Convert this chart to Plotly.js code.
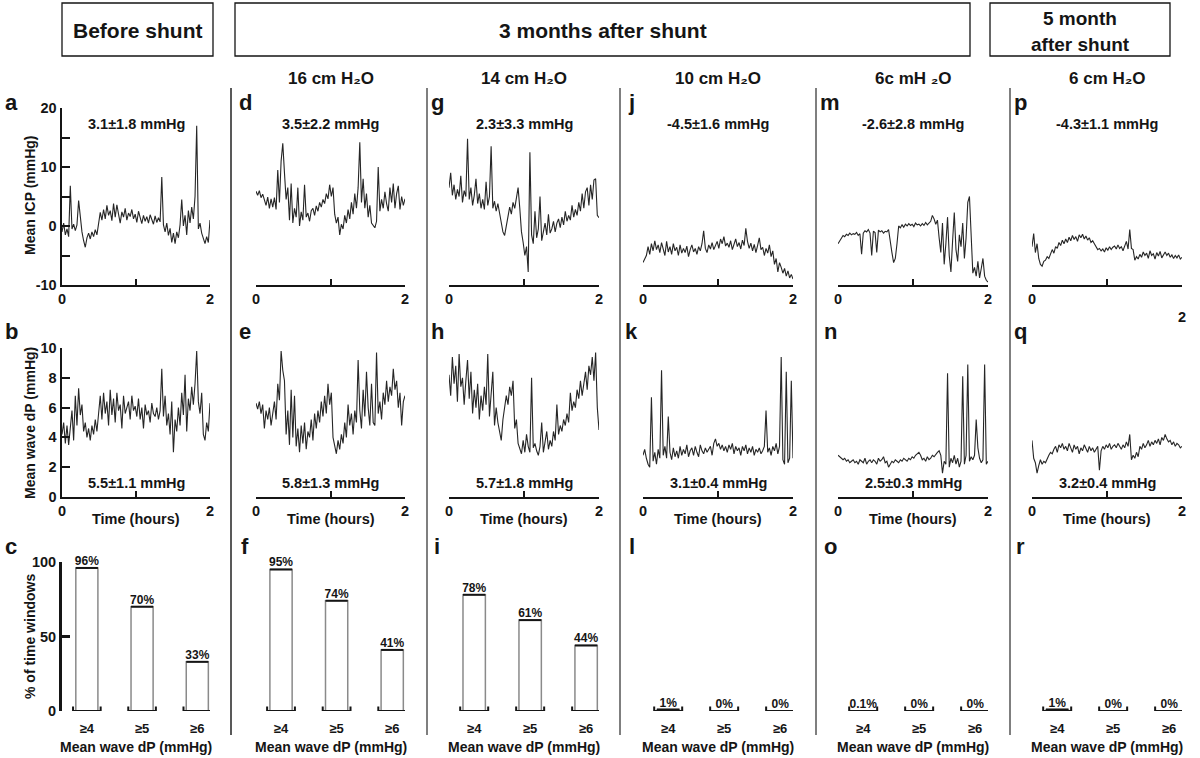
<!DOCTYPE html>
<html><head><meta charset="utf-8">
<script src="https://cdn.plot.ly/plotly-3.0.1.min.js"></script>
<style>html,body{margin:0;padding:0;background:#fff}#chart{width:1200px;height:758px}</style>
</head><body><div id="chart"></div>
<script>
// ---------- DATA ----------
// Mean ICP (mmHg), 2-hour recordings
const icpBefore = [-1.0,0.5,-1.5,-0.5,-1.8,6.8,-0.5,0.3,-0.8,0.2, 4.3,1.5,-1.0,-2.5,-3.6,-2.0,-1.2,-2.2,-1.0,-1.8, -0.6,-1.5,0.8,2.3,1.0,2.8,1.2,3.5,1.8,2.6, 0.9,3.8,1.5,3.6,2.0,0.5,2.4,1.5,3.0,1.0, 2.2,1.6,2.8,1.2,2.0,0.6,2.5,1.3,0.4,1.8, 0.8,1.6,0.5,1.9,1.0,0.3,1.7,0.6,1.4,0.7, 8.3,0.2,-1.0,0.5,-1.6,-0.4,-2.8,-1.2,-3.0,-1.0, -2.0,0.2,4.5,0.0,1.8,-1.5,2.6,0.5,3.2,1.2, 5.0,17.0,-0.5,0.5,-1.2,-2.0,-3.0,-1.8,-2.8,1.0];
const icp16cm = [5.9,5.2,6.0,4.8,5.4,4.2,3.5,4.9,3.0,4.6, 3.2,4.8,2.8,9.5,4.0,11.0,14.0,9.0,4.5,6.5, 1.0,7.2,0.5,3.0,1.5,6.5,0.0,2.4,1.0,7.0, 1.5,2.2,0.8,2.6,3.0,1.8,3.4,2.5,4.0,3.2, 4.5,3.8,5.5,4.6,7.0,5.0,6.5,2.0,0.5,1.5, -1.5,0.3,-0.5,1.8,0.5,2.8,1.2,4.0,2.0,5.5, 3.0,6.5,14.2,4.0,8.0,3.0,5.5,1.5,3.5,0.5, 0.0,-0.3,0.8,10.0,2.5,4.5,3.0,5.8,3.8,2.5, 6.5,4.0,7.2,3.0,5.5,6.8,2.8,5.0,3.5,4.6];
const icp14cm = [6.5,9.0,5.2,7.0,4.5,6.2,5.0,8.5,4.0,6.0, 5.0,14.8,4.5,6.5,3.5,5.2,8.0,3.8,5.5,3.0, 4.5,2.8,7.5,3.5,5.0,13.5,3.0,4.2,2.5,3.8, 2.2,0.5,-1.0,-1.6,0.2,1.5,3.2,2.0,4.0,3.0, 5.0,6.5,3.0,-1.0,-2.8,-5.0,-3.5,-7.8,12.5,-1.5, -3.0,2.5,-2.0,-0.5,5.0,-2.5,-1.0,0.5,-1.5,2.0, -1.2,-0.5,0.8,-1.0,0.5,1.2,-0.3,1.5,0.2,2.5, 0.8,1.8,1.0,3.5,1.5,2.8,1.8,4.0,2.5,5.5, 3.0,5.8,6.5,3.5,7.0,4.5,7.8,8.0,1.8,1.4];
const icp10cm = [-6.2,-5.5,-5.0,-3.5,-4.8,-3.0,-4.2,-2.5,-4.0,-3.2, -4.5,-2.8,-3.8,-5.0,-2.6,-4.4,-3.5,-4.8,-3.0,-4.2, -3.6,-5.0,-3.2,-4.6,-3.8,-4.5,-3.4,-5.2,-4.0,-3.2, -4.4,-3.8,-4.8,-3.5,-4.2,-3.0,-0.8,-3.8,-4.5,-3.2, -3.9,-2.8,-4.0,-3.4,-2.6,-3.8,-2.2,-3.0,-1.8,-3.4, -2.9,-3.6,-2.5,-4.0,-3.0,-2.2,-3.5,-2.8,-3.9,-2.4, -3.3,-0.4,-2.6,-3.8,-2.9,-4.2,-3.1,-4.5,-3.3,-2.0, -4.0,-3.6,-5.0,-3.8,-4.6,-3.2,-5.2,-4.2,-6.5,-5.5, -7.8,-6.2,-7.0,-8.0,-7.2,-8.5,-7.6,-8.8,-8.2,-9.0];
const icp6cmA = [-3.0,-2.6,-2.0,-1.6,-1.8,-1.4,-1.6,-1.2,-1.5,-1.3, -1.4,-1.1,-1.6,-1.3,-4.8,-1.2,-0.8,-1.0,-0.6,-1.2, -5.0,-0.9,-1.1,-4.5,-0.7,-1.0,-0.8,-1.2,-0.9,-1.0, -0.6,-2.8,-4.5,-6.2,-5.5,-3.0,0.0,-0.3,0.2,-0.2, 0.3,0.0,0.4,0.1,0.3,-0.1,0.5,0.2,0.3,0.0, 0.4,0.1,0.6,0.2,0.5,0.8,1.8,1.2,0.3,1.0, -2.0,-4.5,0.5,-6.5,-3.0,1.5,-5.0,-7.8,-2.5,2.3, -4.0,-6.0,-1.5,-3.5,0.5,-5.5,-2.0,4.0,5.0,-1.0, -8.0,-7.0,-8.5,-6.0,-8.8,-7.2,-5.5,-8.5,-9.2,-9.5];
const icp6cmB = [-3.5,-1.3,-4.5,-3.0,-5.5,-6.5,-6.8,-6.0,-5.8,-5.2, -5.5,-4.8,-4.0,-4.6,-3.5,-3.8,-2.8,-3.3,-2.4,-3.0, -2.2,-2.8,-1.9,-2.5,-1.6,-2.3,-1.8,-2.6,-1.5,-2.0, -1.4,-2.2,-1.7,-2.4,-2.0,-2.8,-2.5,-3.0,-3.6,-4.0, -3.8,-4.2,-3.9,-4.4,-3.7,-4.1,-3.5,-4.0,-3.6,-3.4, -3.9,-3.2,-3.8,-3.5,-4.2,-3.3,-2.6,-3.9,-0.6,-3.8, -4.0,-5.8,-5.2,-5.6,-4.8,-5.3,-4.4,-5.0,-4.6,-5.5, -4.2,-5.0,-4.7,-5.6,-4.5,-5.1,-4.3,-5.4,-4.8,-4.4, -5.0,-4.6,-5.3,-4.9,-5.5,-5.0,-5.4,-4.9,-5.6,-5.3];

// Mean wave dP (mmHg)
const dpBefore = [4.2,5.0,3.6,4.8,3.5,4.5,5.8,3.8,6.8,4.8, 7.3,5.5,6.2,4.4,5.0,4.0,4.6,3.8,4.8,4.2, 5.2,4.4,5.8,6.8,5.2,7.0,5.6,6.4,4.8,7.2, 5.5,6.6,5.0,7.0,5.8,6.2,4.6,6.8,5.6,6.0, 6.4,5.2,6.8,5.8,6.1,5.4,6.6,5.2,6.0,4.6, 6.2,5.5,5.8,5.0,6.3,5.6,5.4,6.0,5.2,5.8, 8.6,5.4,6.8,4.8,5.6,4.2,6.4,3.0,5.2,4.4, 6.0,4.8,7.0,5.5,8.2,4.4,6.6,5.8,7.4,6.2, 7.6,9.8,6.4,5.6,7.0,4.2,3.8,5.0,4.4,6.3];
const dp16cm = [6.3,5.9,6.4,5.6,6.2,4.6,5.8,5.2,6.0,4.8, 5.6,6.4,5.2,7.6,6.5,9.8,8.5,7.8,4.2,5.8, 3.5,7.2,4.0,6.8,3.4,4.6,3.0,4.8,3.6,5.0, 3.2,4.4,4.0,5.2,3.8,5.6,4.6,5.8,5.0,6.4, 5.4,6.8,5.6,7.6,6.2,7.0,4.0,3.4,2.9,3.8, 3.2,4.2,3.6,5.0,4.0,6.2,4.8,5.6,4.2,5.8, 5.0,9.2,5.8,4.6,7.2,5.4,8.4,6.0,4.8,7.6, 5.0,4.8,9.7,5.6,6.4,5.2,7.0,6.2,7.8,6.4, 7.4,6.8,8.6,7.2,7.8,6.0,7.0,4.8,6.4,6.8];
const dp14cm = [8.2,6.8,9.4,7.6,8.8,6.4,9.6,7.4,8.0,6.2, 7.8,9.2,6.6,8.4,5.6,7.2,6.0,7.6,5.2,6.8, 5.8,7.4,6.2,9.6,5.4,6.8,8.4,4.8,6.0,5.0, 4.4,3.8,5.2,6.0,6.8,6.2,7.4,6.8,7.8,4.6, 5.2,3.6,3.2,2.9,3.8,3.0,4.2,3.4,3.0,8.0, 3.3,3.6,3.1,2.8,3.4,5.0,3.0,3.6,4.4,3.2, 3.8,3.4,4.4,3.8,6.2,4.2,4.8,4.4,5.2,4.8, 5.6,5.0,7.0,5.8,6.4,6.0,7.2,6.6,7.8,6.8, 7.6,8.4,7.2,8.8,8.2,9.4,7.8,9.7,6.0,4.5];
const dp10cm = [2.8,3.2,2.6,2.2,2.0,6.7,2.4,3.0,2.2,3.2, 2.6,8.5,2.8,3.4,2.6,5.4,3.0,2.5,3.3,2.7, 3.1,2.6,3.4,2.8,3.2,2.9,3.5,2.7,3.1,3.3, 2.8,3.4,3.0,2.7,3.5,3.1,2.9,3.3,3.0,3.2, 3.4,2.8,3.6,3.9,3.4,3.6,3.2,3.5,3.1,3.4, 3.0,3.5,3.2,3.6,2.9,3.4,3.1,3.3,2.8,3.4, 3.1,3.5,2.9,3.3,3.0,3.4,2.8,3.2,3.0,3.3, 2.9,3.1,3.4,5.8,3.0,3.3,2.8,3.4,3.1,3.6, 2.9,3.4,9.4,2.5,2.2,8.4,2.3,2.6,7.8,2.6];
const dp6cmA = [2.8,2.7,2.6,2.5,2.6,2.4,2.5,2.3,2.4,2.5, 2.3,2.4,2.2,2.5,2.4,2.3,2.6,2.2,2.4,2.5, 2.3,2.5,2.4,2.2,2.6,2.4,2.5,2.7,2.3,2.4, 2.0,2.2,2.4,2.3,2.5,2.4,2.3,2.5,2.4,2.6, 2.5,2.4,2.6,2.5,2.7,2.6,2.8,2.9,3.0,2.8, 2.5,2.6,2.4,2.7,2.5,2.6,2.8,2.7,2.9,3.0, 3.1,2.8,1.6,2.4,2.2,8.3,2.0,2.6,2.3,2.8, 2.2,2.6,2.0,2.4,8.1,2.2,2.8,8.9,2.4,2.7, 2.5,2.8,5.2,3.3,2.6,2.3,2.5,8.9,2.2,2.4];
const dp6cmB = [3.8,2.6,2.3,1.6,2.1,2.5,2.2,2.4,2.3,2.6, 2.8,3.0,2.9,3.2,3.4,3.0,3.5,3.3,3.6,3.2, 3.4,3.1,3.6,3.3,3.0,3.5,3.2,3.4,2.9,3.3, 3.1,3.5,3.2,3.0,3.4,3.1,3.3,3.0,3.2,3.4, 1.8,3.1,3.4,3.2,3.5,3.3,3.6,3.2,3.4,3.5, 3.3,3.6,3.4,3.2,3.5,3.3,3.7,3.4,4.2,2.5, 2.8,2.6,3.0,2.7,3.4,3.2,3.6,3.3,3.5,3.8, 3.4,3.7,3.5,3.8,3.6,3.9,3.5,4.0,3.8,4.2, 3.9,3.7,3.8,3.5,3.7,3.4,3.6,3.5,3.3,3.4];

// % of time windows with mean wave dP above threshold
const dpCategories = ['≥4', '≥5', '≥6'];
const pctBefore = [96, 70, 33];
const pct16cm = [95, 74, 41];
const pct14cm = [78, 61, 44];
const pct10cm = [1, 0, 0];
const pct6cmA = [0.1, 0, 0];
const pct6cmB = [1, 0, 0];

const columnHeads = ['', '16 cm H₂O', '14 cm H₂O', '10 cm H₂O', '6c mH ₂O', '6 cm H₂O'];
const icpMeanLabels = ['3.1±1.8 mmHg', '3.5±2.2 mmHg', '2.3±3.3 mmHg', '-4.5±1.6 mmHg', '-2.6±2.8 mmHg', '-4.3±1.1 mmHg'];
const dpMeanLabels = ['5.5±1.1 mmHg', '5.8±1.3 mmHg', '5.7±1.8 mmHg', '3.1±0.4 mmHg', '2.5±0.3 mmHg', '3.2±0.4 mmHg'];
const panelLetters = [['a','d','g','j','m','p'], ['b','e','h','k','n','q'], ['c','f','i','l','o','r']];
const icpTicks = [-10, 0, 10, 20], icpMinorTicks = [-5, 5, 15];
const dpTicks = [0, 2, 4, 6, 8, 10];
const pctTicks = [0, 50, 100];
const timeTicks = [0, 2], timeMinorTicks = [1];

// ---------- LAYOUT GEOMETRY ----------
const W = 1200, H = 758;
const colPx = [[62,210],[256,405],[449,599],[643,793],[838,988],[1032,1182]];
const rowPx = [[108,285],[348,497],[562,711]];
const INK = '#151515';
const icpSeries = [icpBefore, icp16cm, icp14cm, icp10cm, icp6cmA, icp6cmB];
const dpSeries = [dpBefore, dp16cm, dp14cm, dp10cm, dp6cmA, dp6cmB];
const pctSeries = [pctBefore, pct16cm, pct14cm, pct10cm, pct6cmA, pct6cmB];

const px2x = p => p / W, px2y = p => 1 - p / H;
const timeOf = arr => arr.map((_, i) => 2 * i / (arr.length - 1));

const traces = [];
const layout = {
  width: W, height: H, margin: {l:0, r:0, t:0, b:0},
  paper_bgcolor: '#fff', plot_bgcolor: 'rgba(0,0,0,0)', showlegend: false,
  font: {family: '"Liberation Sans", Arial, Helvetica, "DejaVu Sans", sans-serif', size: 14, color: INK, weight: 'bold'},
  shapes: [], annotations: []
};

function ann(text, x, y, size, extra) {
  layout.annotations.push(Object.assign({
    text: text, xref: 'paper', yref: 'paper', x: px2x(x), y: px2y(y),
    xanchor: 'center', yanchor: 'middle', showarrow: false,
    font: {size: size, color: INK, weight: 'bold'}
  }, extra || {}));
}

for (let r = 0; r < 3; r++) {
  for (let c = 0; c < 6; c++) {
    const id = r * 6 + c + 1;
    const xs = id === 1 ? '' : String(id);
    const xa = 'x' + xs, ya = 'y' + xs;
    const xdom = [px2x(colPx[c][0]), px2x(colPx[c][1])];
    const ydom = [px2y(rowPx[r][1]), px2y(rowPx[r][0])];
    const base = {showgrid: false, zeroline: false, fixedrange: true};
    if (r < 2) {
      const series = r === 0 ? icpSeries[c] : dpSeries[c];
      traces.push({type: 'scatter', mode: 'lines', x: timeOf(series), y: series,
        xaxis: xa, yaxis: ya, line: {color: '#262626', width: 1.1}, hoverinfo: 'skip'});
      const quirk = (r === 0 && c === 5);   // panel p: its "2" label sits lower
      layout['xaxis' + xs] = Object.assign({}, base, {
        domain: xdom, anchor: ya, range: [0, 2], showline: true, linecolor: INK, linewidth: 2,
        ticks: 'inside', ticklen: 6, tickwidth: 2, tickcolor: INK,
        tickmode: 'array', tickvals: quirk ? [0] : timeTicks, ticktext: (quirk ? [0] : timeTicks).map(String),
        minor: {tickmode: 'array', tickvals: quirk ? [1, 2] : timeMinorTicks, ticks: 'inside', ticklen: 6, tickwidth: 2, tickcolor: INK, showgrid: false},
        tickfont: {size: 14.5, weight: 'bold'}
      });
      const ytv = r === 0 ? icpTicks : dpTicks;
      const yax = Object.assign({}, base, {
        domain: ydom, anchor: xa, range: r === 0 ? [-10, 20] : [0, 10], visible: c === 0,
        showline: true, linecolor: INK, linewidth: 2.5, ticks: 'inside', ticklen: 8, tickwidth: 2,
        tickcolor: INK, tickmode: 'array', tickvals: ytv, ticktext: ytv.map(String), tickfont: {size: 14.5, weight: 'bold'}
      });
      if (r === 0) yax.minor = {tickmode: 'array', tickvals: icpMinorTicks, ticks: 'inside', ticklen: 8, tickwidth: 2, tickcolor: INK, showgrid: false};
      layout['yaxis' + xs] = yax;
    } else {
      const vals = pctSeries[c];
      const idx = dpCategories.map((_, i) => i);
      traces.push({type: 'bar', x: idx, y: vals, width: 0.4, xaxis: xa, yaxis: ya,
        marker: {color: '#fff', line: {color: '#8a8a8a', width: 1.5}}, hoverinfo: 'skip', cliponaxis: false});
      // dark top edge of each bar
      const tx = [], ty = [];
      idx.forEach((i) => { if (vals[i] > 0.5) { tx.push(i - 0.2, i + 0.2, null); ty.push(vals[i], vals[i], null); } });
      traces.push({type: 'scatter', mode: 'lines', x: tx, y: ty, xaxis: xa, yaxis: ya,
        line: {color: INK, width: 2}, hoverinfo: 'skip', cliponaxis: false});
      // bracket baseline under each category
      const bx = [], by = [];
      idx.forEach((i) => { bx.push(i - 0.25, i - 0.25, i + 0.25, i + 0.25, null); by.push(3, 0, 0, 3, null); });
      traces.push({type: 'scatter', mode: 'lines', x: bx, y: by, xaxis: xa, yaxis: ya,
        line: {color: INK, width: 2}, hoverinfo: 'skip', cliponaxis: false});
      // value labels
      traces.push({type: 'scatter', mode: 'text', x: idx, y: vals, text: vals.map(v => v + '%'),
        textposition: 'top center', textfont: {size: 12, color: INK, weight: 'bold'},
        xaxis: xa, yaxis: ya, hoverinfo: 'skip', cliponaxis: false});
      layout['xaxis' + xs] = Object.assign({}, base, {
        domain: xdom, anchor: ya, range: [-0.45, 2.23], showline: false, ticks: '',
        tickmode: 'array', tickvals: idx, ticktext: dpCategories, tickfont: {size: 13, weight: 'bold'}, ticklabelstandoff: 8
      });
      layout['yaxis' + xs] = Object.assign({}, base, {
        domain: ydom, anchor: xa, range: [0, 100], visible: c === 0,
        showline: true, linecolor: INK, linewidth: 3, ticks: 'inside', ticklen: 8, tickwidth: 2.5,
        tickcolor: INK, tickmode: 'array', tickvals: pctTicks, ticktext: pctTicks.map(String), tickfont: {size: 14.5, weight: 'bold'}
      });
    }
  }
}

// header boxes
[[62, 213], [235, 970], [990, 1170]].forEach(b => layout.shapes.push({
  type: 'rect', xref: 'paper', yref: 'paper', x0: px2x(b[0]), x1: px2x(b[1]), y0: px2y(56), y1: px2y(3),
  line: {color: INK, width: 1.3}, fillcolor: 'rgba(0,0,0,0)'}));
// column separators
[231, 427, 620, 816, 1010].forEach((x, i) => layout.shapes.push({
  type: 'line', xref: 'paper', yref: 'paper', x0: px2x(x), x1: px2x(x), y0: px2y(735), y1: px2y(88),
  line: {color: i === 0 ? '#222' : '#555', width: 1.5}}));

ann('Before shunt', 137.5, 30, 21);
ann('3 months after shunt', 603, 30, 21);
ann('5 month', 1080, 19, 19);
ann('after shunt', 1080, 44, 19);

const colCenter = colPx.map(p => (p[0] + p[1]) / 2);
columnHeads.forEach((t, c) => { if (t) ann(t, colCenter[c], 78, 17); });
icpMeanLabels.forEach((t, c) => ann(t, colCenter[c], 124, 14.5));
dpMeanLabels.forEach((t, c) => ann(t, colCenter[c], 483, 14.5));
colCenter.forEach(x => { ann('Time (hours)', x, 519, 14.5); ann('Mean wave dP (mmHg)', x, 747, 14); });

const letterX = [11, 245, 437, 632, 830, 1020];
const letterY = [103, 332, 546];
panelLetters.forEach((row, r) => row.forEach((l, c) => ann(l, letterX[c], letterY[r], 22)));

ann('Mean ICP (mmHg)', 30, 195, 14, {textangle: -90});
ann('Mean wave dP (mmHg)', 30, 423, 14, {textangle: -90});
ann('% of time windows', 30, 637, 14, {textangle: -90});
ann('2', 1182, 317, 14.5);

Plotly.newPlot('chart', traces, layout, {staticPlot: true, displayModeBar: false});
</script>
</body></html>
